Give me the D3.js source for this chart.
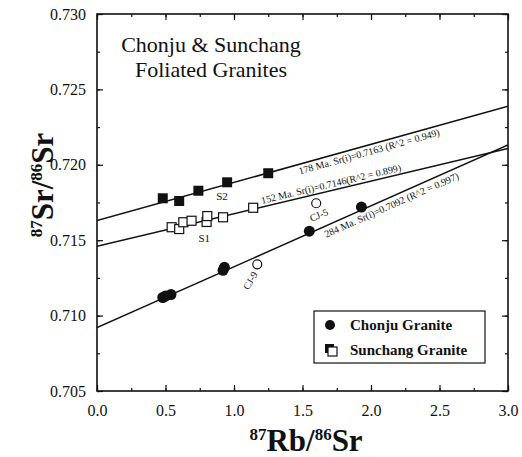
<!DOCTYPE html>
<html>
<head>
<meta charset="utf-8">
<script src="https://cdn.jsdelivr.net/npm/d3@7"></script>
<style>
  body { margin: 0; background: #fff; }
  svg text { font-family: "Liberation Serif", "Times New Roman", serif; fill: #111; }
</style>
</head>
<body>
<svg id="chart" width="522" height="457"></svg>
<script>
// Chonju granite (filled circles)
const chonjuX = [0.48, 0.50, 0.54, 0.92, 0.93, 1.55, 1.93];
const chonjuY = [0.7112, 0.7113, 0.7114, 0.7130, 0.7132, 0.7156, 0.7172];
// Chonju samples off the isochron (open circles)
const outlierNames = ['CJ-5', 'CJ-9'];
const outlierX = [1.60, 1.17];
const outlierY = [0.71745, 0.71340];
// Sunchang S2 (filled squares)
const s2X = [0.48, 0.60, 0.74, 0.95, 1.25];
const s2Y = [0.71778, 0.71760, 0.71828, 0.71884, 0.71944];
// Sunchang S1 (open squares)
const s1X = [0.545, 0.60, 0.63, 0.69, 0.80, 0.805, 0.92, 1.14];
const s1Y = [0.71586, 0.71574, 0.71619, 0.71629, 0.71621, 0.71660, 0.71652, 0.71715];
// isochrons
const isoLabels = ['178 Ma. Sr(i)=0.7163 (R^2 = 0.949)', '152 Ma. Sr(i)=0.7146(R^2 = 0.899)', '284 Ma. Sr(i)=0.7092 (R^2 = 0.997)'];
const isoIntercept = [0.7163, 0.7146, 0.7092];
const isoSlope = [0.00253, 0.00216, 0.00404];
// axes
const xTicks = [0.0, 0.5, 1.0, 1.5, 2.0, 2.5, 3.0];
const yTicks = [0.705, 0.710, 0.715, 0.720, 0.725, 0.730];

const svg = d3.select('#chart');
const plotLeft = 97, plotRight = 508, plotTop = 14, plotBottom = 391;

let x = d3.scaleLinear().domain([0, 3]).range([plotLeft, plotRight]);
let y = d3.scaleLinear().domain([0.705, 0.730]).range([plotBottom, plotTop]);

svg.append('clipPath').attr('id', 'clip')
  .append('rect')
  .attr('x', plotLeft).attr('y', plotTop)
  .attr('width', plotRight - plotLeft).attr('height', plotBottom - plotTop);

// minor + major ticks, pointing inward on every side
let minorX = d3.range(0, 3.001, 0.25);
let minorY = d3.range(0.705, 0.7301, 0.0025);

let drawAxis = (axis, transform, isMinor) => {
  let g = svg.append('g').attr('transform', transform).call(axis);
  g.select('.domain').remove();
  g.selectAll('line').attr('stroke', '#111').attr('stroke-width', 1.2);
  g.selectAll('text')
    .style('font-family', '"Liberation Serif", serif')
    .style('font-size', '16px')
    .attr('fill', '#111');
  if (isMinor) g.selectAll('text').remove();
  return g;
};

drawAxis(d3.axisBottom(x).tickValues(minorX).tickSize(-3).tickFormat(''), `translate(0,${plotBottom})`, true);
drawAxis(d3.axisTop(x).tickValues(minorX).tickSize(-3).tickFormat(''), `translate(0,${plotTop})`, true);
drawAxis(d3.axisLeft(y).tickValues(minorY).tickSize(-3).tickFormat(''), `translate(${plotLeft},0)`, true);
drawAxis(d3.axisRight(y).tickValues(minorY).tickSize(-3).tickFormat(''), `translate(${plotRight},0)`, true);

drawAxis(d3.axisBottom(x).tickValues(xTicks).tickSizeInner(-6).tickSizeOuter(0).tickPadding(14).tickFormat(d3.format('.1f')), `translate(0,${plotBottom})`, false);
drawAxis(d3.axisTop(x).tickValues(xTicks).tickSize(-6).tickFormat(''), `translate(0,${plotTop})`, true);
drawAxis(d3.axisLeft(y).tickValues(yTicks).tickSizeInner(-6).tickSizeOuter(0).tickPadding(11).tickFormat(d3.format('.3f')), `translate(${plotLeft},0)`, false);
drawAxis(d3.axisRight(y).tickValues(yTicks).tickSize(-6).tickFormat(''), `translate(${plotRight},0)`, true);

svg.append('rect')
  .attr('x', plotLeft).attr('y', plotTop)
  .attr('width', plotRight - plotLeft).attr('height', plotBottom - plotTop)
  .attr('fill', 'none').attr('stroke', '#111').attr('stroke-width', 1.6);

// isochron lines
let lineGen = d3.line().x(d => x(d[0])).y(d => y(d[1]));
isoIntercept.forEach((b, i) => {
  let pts = [0, 3].map(v => [v, b + isoSlope[i] * v]);
  svg.append('path')
    .attr('d', lineGen(pts))
    .attr('clip-path', 'url(#clip)')
    .attr('fill', 'none').attr('stroke', '#111').attr('stroke-width', 1.5);
});

// isochron labels, written along their lines
const labelStart = [1.46, 1.21, 1.64];
const labelOffset = [10, -3, 11];
isoLabels.forEach((t, i) => {
  let xs = labelStart[i];
  let px = x(xs), py = y(isoIntercept[i] + isoSlope[i] * xs);
  let ang = Math.atan2(y(isoIntercept[i] + isoSlope[i] * 3) - y(isoIntercept[i]), x(3) - x(0)) * 180 / Math.PI;
  svg.append('text')
    .attr('transform', `translate(${px},${py}) rotate(${ang}) translate(0,${labelOffset[i]})`)
    .style('font-size', '10px')
    .text(t);
});

// points
svg.append('g').selectAll('rect')
  .data(s2X.map((d, i) => [d, s2Y[i]]))
  .enter().append('rect')
    .attr('x', d => x(d[0]) - 5).attr('y', d => y(d[1]) - 5)
    .attr('width', 10).attr('height', 10)
    .attr('fill', '#111');

svg.append('g').selectAll('rect')
  .data(s1X.map((d, i) => [d, s1Y[i]]))
  .enter().append('rect')
    .attr('x', d => x(d[0]) - 4.5).attr('y', d => y(d[1]) - 4.5)
    .attr('width', 9).attr('height', 9)
    .attr('fill', '#fff').attr('stroke', '#111').attr('stroke-width', 1.2);

svg.append('g').selectAll('circle')
  .data(chonjuX.map((d, i) => [d, chonjuY[i]]))
  .enter().append('circle')
    .attr('cx', d => x(d[0])).attr('cy', d => y(d[1]))
    .attr('r', 5.5).attr('fill', '#111');

svg.append('g').selectAll('circle')
  .data(outlierX.map((d, i) => [d, outlierY[i]]))
  .enter().append('circle')
    .attr('cx', d => x(d[0])).attr('cy', d => y(d[1]))
    .attr('r', 4.5).attr('fill', '#fff').attr('stroke', '#111').attr('stroke-width', 1.2);

// sample labels
svg.append('text').attr('x', x(0.87)).attr('y', y(0.71765)).style('font-size', '11px').text('S2');
svg.append('text').attr('x', x(0.74)).attr('y', y(0.71490)).style('font-size', '11px').text('S1');
svg.append('text')
  .attr('transform', `translate(${x(outlierX[0]) + 4},${y(outlierY[0]) + 15}) rotate(-22)`)
  .attr('text-anchor', 'middle').style('font-size', '10px').text(outlierNames[0]);
svg.append('text')
  .attr('transform', `translate(${x(outlierX[1]) - 4},${y(outlierY[1]) + 18}) rotate(-60)`)
  .attr('text-anchor', 'middle').style('font-size', '10px').text(outlierNames[1]);

// title
svg.append('text').attr('x', 211).attr('y', 52).attr('text-anchor', 'middle')
  .style('font-size', '22px').text('Chonju & Sunchang');
svg.append('text').attr('x', 211).attr('y', 77).attr('text-anchor', 'middle')
  .style('font-size', '22px').text('Foliated Granites');

// legend
let legend = svg.append('g');
legend.append('rect')
  .attr('x', 314).attr('y', 311).attr('width', 171).attr('height', 52)
  .attr('fill', '#fff').attr('stroke', '#111').attr('stroke-width', 1.2);
legend.append('circle').attr('cx', 330).attr('cy', 325).attr('r', 5).attr('fill', '#111');
legend.append('rect').attr('x', 325).attr('y', 344).attr('width', 9).attr('height', 9).attr('fill', '#111');
legend.append('rect').attr('x', 328).attr('y', 347).attr('width', 9).attr('height', 9)
  .attr('fill', '#fff').attr('stroke', '#111').attr('stroke-width', 1.2);
legend.append('text').attr('x', 350).attr('y', 330).style('font-size', '15px').style('font-weight', 'bold').text('Chonju Granite');
legend.append('text').attr('x', 350).attr('y', 355).style('font-size', '15px').style('font-weight', 'bold').text('Sunchang Granite');

// axis titles
let xt = svg.append('text').attr('x', 306).attr('y', 451).attr('text-anchor', 'middle')
  .style('font-size', '31px').style('font-weight', 'bold');
xt.append('tspan').style('font-size', '17px').attr('dy', -11).text('87');
xt.append('tspan').attr('dy', 11).text('Rb/');
xt.append('tspan').style('font-size', '17px').attr('dy', -11).text('86');
xt.append('tspan').attr('dy', 11).text('Sr');

let yt = svg.append('text').attr('transform', 'translate(53,185) rotate(-90)').attr('text-anchor', 'middle')
  .style('font-size', '31px').style('font-weight', 'bold');
yt.append('tspan').style('font-size', '17px').attr('dy', -11).text('87');
yt.append('tspan').attr('dy', 11).text('Sr/');
yt.append('tspan').style('font-size', '17px').attr('dy', -11).text('86');
yt.append('tspan').attr('dy', 11).text('Sr');
</script>
</body>
</html>
